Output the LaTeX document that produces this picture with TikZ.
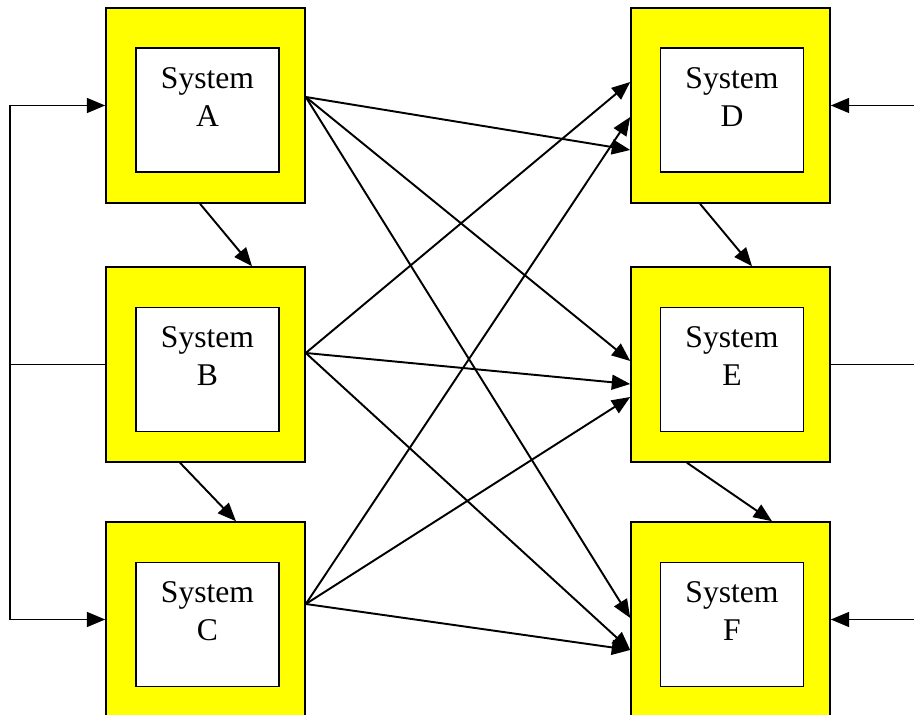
\documentclass[tikz,border=0pt]{standalone}
\usepackage{fontspec}
\setmainfont{Liberation Serif}
\usetikzlibrary{arrows.meta,calc}
\definecolor{sysyellow}{RGB}{255,255,0}

\begin{document}
\begin{tikzpicture}[
    x=0.02cm, y=-0.02cm,
    sysbox/.style={draw=black, fill=sysyellow, line width=0.9pt, minimum width=3.98cm, minimum height=3.9cm, inner sep=0pt},
    core/.style={draw=black, fill=white, line width=0.9pt, minimum width=2.86cm, minimum height=2.48cm, inner sep=0pt},
    systxt/.style={align=center, font=\fontsize{18}{21.5}\selectfont, inner sep=0pt},
    arrow/.style={-{Triangle[length=10.5pt,width=8.5pt]}, line width=1.1pt},
    link/.style={line width=1.1pt},
]
\useasboundingbox (0,0) rectangle (914,715);
% left column
\node[sysbox] (A) at (205.5,105.5) {};
\node[core] (Ai) at (207.5,110) {};
\node[systxt] (At) at (207.5,97) {System\\A};
\node[sysbox] (B) at (205.5,364.5) {};
\node[core] (Bi) at (207.5,369.5) {};
\node[systxt] (Bt) at (207.5,356) {System\\B};
\node[sysbox] (C) at (205.5,619.5) {};
\node[core] (Ci) at (207.5,624.5) {};
\node[systxt] (Ct) at (207.5,611) {System\\C};
% right column
\node[sysbox] (D) at (730.5,105.5) {};
\node[core] (Di) at (732,110) {};
\node[systxt] (Dt) at (732,97) {System\\D};
\node[sysbox] (E) at (730.5,364.5) {};
\node[core] (Ei) at (732,369.5) {};
\node[systxt] (Et) at (732,356) {System\\E};
\node[sysbox] (F) at (730.5,619.5) {};
\node[core] (Fi) at (732,624.5) {};
\node[systxt] (Ft) at (732,611) {System\\F};
% outside feeds
\coordinate (lb) at (10,364.5);
\coordinate (rD) at (914,105.5);
\coordinate (rE) at (914,364.5);
\coordinate (rF) at (914,619.5);
\draw[link] (B.west) -- (lb);
\draw[arrow] (lb) |- (A.west);
\draw[arrow] (lb) |- (C.west);
\draw[arrow] (rD) -- (D.east);
\draw[link] (E.east) -- (rE);
\draw[arrow] (rF) -- (F.east);
% down each column
\draw[arrow] ($(A.south)+(-5.5,0)$) -- ($(B.north)+(46.5,0)$);
\draw[arrow] ($(B.south)+(-25.5,0)$) -- ($(C.north)+(30.5,0)$);
\draw[arrow] ($(D.south)+(-30.5,0)$) -- ($(E.north)+(21.5,0)$);
\draw[arrow] ($(E.south)+(-43.5,0)$) -- ($(F.north)+(41.5,0)$);
% across
\draw[arrow] ($(A.east)+(0,-8.5)$) -- ($(D.west)+(0,44.5)$);
\draw[arrow] ($(A.east)+(0,-8.5)$) -- ($(E.west)+(0,-3.5)$);
\draw[arrow] ($(A.east)+(0,-8.5)$) -- ($(F.west)+(0,-1.5)$);
\draw[arrow] ($(B.east)+(0,-11.5)$) -- ($(D.west)+(0,-23.5)$);
\draw[arrow] ($(B.east)+(0,-11.5)$) -- ($(E.west)+(0,19.5)$);
\draw[arrow] ($(B.east)+(0,-11.5)$) -- ($(F.west)+(0,30.5)$);
\draw[arrow] ($(C.east)+(0,-15.5)$) -- ($(D.west)+(0,11.5)$);
\draw[arrow] ($(C.east)+(0,-15.5)$) -- ($(E.west)+(0,32.5)$);
\draw[arrow] ($(C.east)+(0,-15.5)$) -- ($(F.west)+(0,30.5)$);
\end{tikzpicture}
\end{document}
